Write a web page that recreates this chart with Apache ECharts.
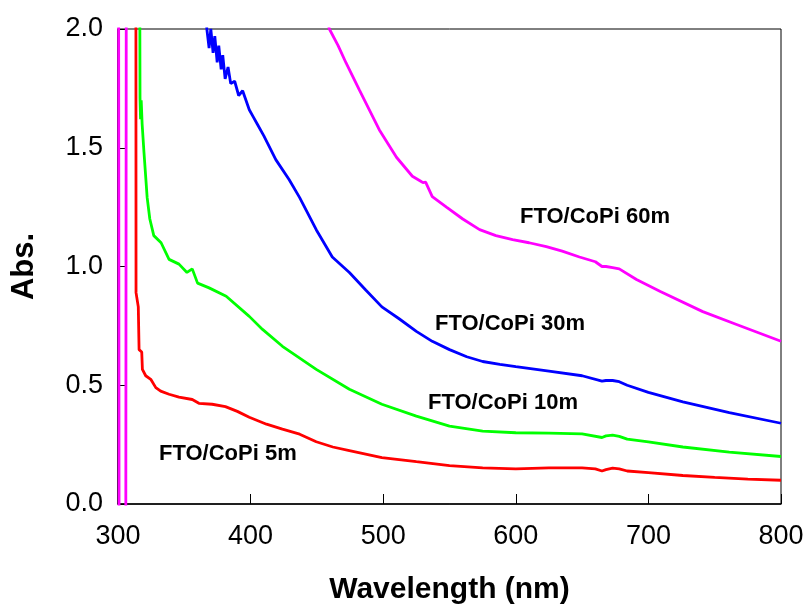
<!DOCTYPE html>
<html>
<head>
<meta charset="utf-8">
<script src="https://cdn.jsdelivr.net/npm/echarts@6/dist/echarts.min.js"></script>
<style>html,body{margin:0;padding:0;background:#fff}#c{width:808px;height:610px}</style>
</head>
<body>
<div id="c"></div>
<script>
// ---- data ----
var xTicks = [300, 400, 500, 600, 700, 800];
var yTicks = [0.0, 0.5, 1.0, 1.5, 2.0];

var seriesNames = ['FTO/CoPi 5m', 'FTO/CoPi 10m', 'FTO/CoPi 30m', 'FTO/CoPi 60m'];

var wl5  = [313.5, 313.6, 315.3, 315.9, 317.9, 318.4, 320.9, 324.7, 328.5, 332.2, 338.5, 346, 356, 361, 371, 381, 390, 399, 412, 424, 437, 449.5, 462, 474.5, 499, 525, 550, 575, 600, 625, 650, 660, 665, 668, 673, 678, 684, 700, 726, 750, 775, 800];
var abs5 = [2.2, 0.89, 0.83, 0.65, 0.64, 0.567, 0.54, 0.525, 0.49, 0.475, 0.462, 0.45, 0.44, 0.424, 0.42, 0.41, 0.39, 0.365, 0.336, 0.315, 0.294, 0.262, 0.24, 0.225, 0.195, 0.178, 0.162, 0.152, 0.148, 0.152, 0.152, 0.148, 0.139, 0.145, 0.151, 0.148, 0.139, 0.132, 0.12, 0.112, 0.105, 0.10];

var wl10  = [316.4, 316.6, 317.0, 317.5, 318.2, 319.6, 322, 324, 327, 332.5, 338.5, 346, 352, 356, 360, 368.7, 381.6, 399, 409, 424, 449.5, 474.5, 499, 525, 550, 575, 600, 625, 650, 665, 668, 673, 678, 684, 700, 726, 761, 800];
var abs10 = [2.2, 1.71, 1.62, 1.70, 1.60, 1.48, 1.29, 1.20, 1.13, 1.10, 1.03, 1.01, 0.975, 0.99, 0.93, 0.91, 0.875, 0.79, 0.735, 0.664, 0.567, 0.483, 0.42, 0.37, 0.328, 0.307, 0.30, 0.298, 0.295, 0.28, 0.287, 0.29, 0.285, 0.273, 0.262, 0.24, 0.218, 0.20];

var wl30  = [366, 367, 368.7, 370, 371.7, 373, 374.8, 376, 377.8, 379, 380.8, 383, 385, 388, 391, 394, 396.5, 399, 402, 405, 410, 419, 429, 437, 449.5, 461.6, 474.5, 487, 499, 512, 525, 537, 550, 563, 575, 588, 600, 625, 650, 665, 668, 673, 678, 684, 700, 726, 761, 800];
var abs30 = [2.1, 2.0, 1.92, 2.0, 1.9, 1.97, 1.86, 1.93, 1.83, 1.89, 1.79, 1.84, 1.77, 1.78, 1.72, 1.74, 1.70, 1.66, 1.63, 1.60, 1.55, 1.45, 1.366, 1.29, 1.155, 1.04, 0.975, 0.90, 0.83, 0.78, 0.727, 0.685, 0.65, 0.62, 0.60, 0.588, 0.578, 0.559, 0.54, 0.517, 0.52, 0.52, 0.515, 0.50, 0.47, 0.43, 0.385, 0.34];

var wl60  = [300.4, 300.9, 305.8, 306.3, 455, 459.4, 466, 472, 482, 497, 510, 522, 528, 530, 532, 537, 547.7, 560, 572.7, 585, 597.6, 610, 623, 635, 648, 660, 665, 668, 673, 678, 691, 709, 741, 767, 800];
var abs60 = [2.6, -0.6, -0.6, 2.6, 2.1, 2.0, 1.93, 1.857, 1.744, 1.576, 1.46, 1.38, 1.36, 1.353, 1.355, 1.294, 1.25, 1.20, 1.155, 1.13, 1.113, 1.10, 1.084, 1.065, 1.04, 1.02, 1.0, 1.0, 0.995, 0.99, 0.945, 0.895, 0.81, 0.755, 0.685];

var colors = ['#FF0000', '#00FF00', '#0000FF', '#FF00FF'];
var wls = [wl5, wl10, wl30, wl60];
var abss = [abs5, abs10, abs30, abs60];

function zip(a, b) { return a.map(function (v, i) { return [v, b[i]]; }); }

var FONT = "'Liberation Sans', Arial, sans-serif";
var chart = echarts.init(document.getElementById('c'), null, {renderer: 'canvas'});

var series = seriesNames.map(function (n, i) {
  return {
    name: n, type: 'line', data: zip(wls[i], abss[i]), showSymbol: false, symbol: 'none',
    clip: true, lineStyle: {color: colors[i], width: 2.8}, itemStyle: {color: colors[i]},
    animation: false, z: 2 + (3 - i)
  };
});

var labelPos = [[159, 453], [428, 402], [435, 323], [520, 216]];

chart.setOption({
  animation: false,
  backgroundColor: '#fff',
  grid: {left: 118, right: 27, top: 29, bottom: 105, show: true, borderColor: '#000', borderWidth: 1, backgroundColor: 'transparent'},
  xAxis: {
    type: 'value', min: xTicks[0], max: xTicks[xTicks.length - 1], interval: 100,
    name: 'Wavelength (nm)', nameLocation: 'middle', nameGap: 71,
    nameTextStyle: {fontFamily: FONT, fontWeight: 'bold', fontSize: 30, color: '#000'},
    axisLine: {onZero: false, lineStyle: {color: '#000', width: 1.5}},
    axisTick: {inside: true, length: 10, lineStyle: {color: '#000', width: 1}},
    axisLabel: {fontFamily: FONT, fontSize: 27, color: '#000', margin: 19},
    splitLine: {show: false}
  },
  yAxis: {
    type: 'value', min: yTicks[0], max: yTicks[yTicks.length - 1], interval: 0.5,
    name: 'Abs.', nameLocation: 'middle', nameGap: 78, nameRotate: 90,
    nameTextStyle: {fontFamily: FONT, fontWeight: 'bold', fontSize: 31, color: '#000'},
    axisLine: {onZero: false, lineStyle: {color: '#000', width: 1.5}},
    axisTick: {inside: true, length: 8, lineStyle: {color: '#000', width: 1}},
    axisLabel: {fontFamily: FONT, fontSize: 27, color: '#000', margin: 15, formatter: function (v) { return v.toFixed(1); }},
    splitLine: {show: false}
  },
  series: series,
  graphic: seriesNames.map(function (n, i) {
    return {
      type: 'text', left: labelPos[i][0], top: labelPos[i][1] - 10, z: 100,
      style: {text: n, font: 'bold 22px ' + FONT, fill: '#000'}
    };
  })
});
</script>
</body>
</html>
